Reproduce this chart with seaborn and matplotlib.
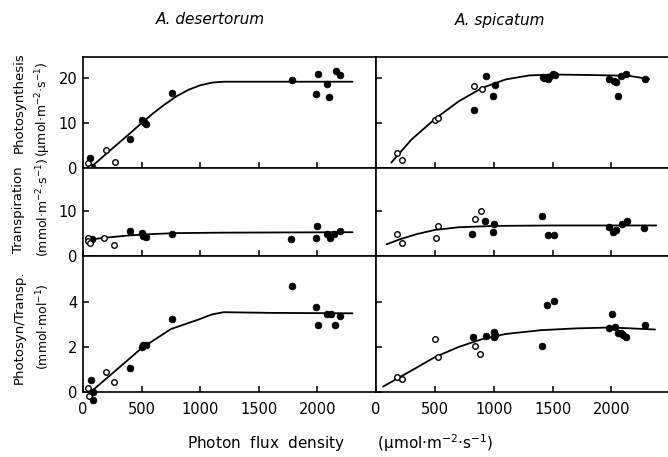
import numpy as np
import pandas as pd
import seaborn as sns
import matplotlib
matplotlib.use('Agg')
import matplotlib.pyplot as plt


# Data
# A. desertorum - photosynthesis
des_ps_open_x = [45, 60, 197, 274]
des_ps_open_y = [1.2, 0.0, 4.1, 1.4]
des_ps_fill_x = [60, 80, 85, 402, 502, 521, 538, 758, 1784, 2006, 1987, 2078, 2100, 2155, 2197]
des_ps_fill_y = [2.2, 0.3, -0.8, 6.4, 10.7, 10.3, 9.8, 16.6, 19.6, 21.0, 16.4, 18.7, 15.9, 21.6, 20.7]
des_ps_fit_x = [60, 200, 400, 500, 600, 700, 800, 900, 1000, 1100, 1200, 1500, 2000, 2300]
des_ps_fit_y = [0.0, 3.2, 7.7, 10.0, 12.2, 14.2, 16.0, 17.4, 18.4, 19.0, 19.2, 19.2, 19.2, 19.2]

# A. spicatum - photosynthesis
spi_ps_open_x = [181, 223, 500, 528, 830, 898]
spi_ps_open_y = [3.4, 1.8, 10.7, 11.2, 18.3, 17.6]
spi_ps_fill_x = [833, 937, 994, 1008, 1417, 1430, 1460, 1470, 1502, 1519,
                 1982, 2024, 2039, 2053, 2081, 2123, 2287]
spi_ps_fill_y = [13.0, 20.4, 16.1, 18.4, 20.3, 20.0, 19.9, 20.3, 21.0, 20.8,
                 19.9, 19.4, 19.2, 16.1, 20.4, 20.9, 19.7]
spi_ps_fit_x = [130, 300, 500, 700, 900, 1100, 1300, 1500, 1800, 2000, 2150, 2320]
spi_ps_fit_y = [1.2, 6.3, 10.9, 14.8, 17.8, 19.7, 20.6, 20.8, 20.7, 20.6, 20.5, 19.8]

# A. desertorum - transpiration
des_tr_open_x = [45, 45, 60, 182, 268]
des_tr_open_y = [3.9, 3.4, 2.8, 4.1, 2.4]
des_tr_fill_x = [74, 402, 502, 510, 536, 758, 1778, 1998, 1984, 2083, 2106, 2140, 2197]
des_tr_fill_y = [3.7, 5.6, 5.2, 4.4, 4.3, 5.0, 3.7, 6.7, 4.1, 5.0, 4.1, 5.0, 5.6]
des_tr_fit_x = [30, 200, 400, 600, 800, 1200, 2300]
des_tr_fit_y = [3.6, 4.1, 4.6, 4.9, 5.1, 5.2, 5.3]

# A. spicatum - transpiration
spi_tr_open_x = [181, 218, 528, 506, 841, 889]
spi_tr_open_y = [4.8, 3.0, 6.7, 4.1, 8.3, 10.1]
spi_tr_fill_x = [819, 929, 1002, 994, 1412, 1460, 1510, 1982, 2010, 2039, 2087, 2129, 2279]
spi_tr_fill_y = [4.8, 7.8, 7.1, 5.3, 9.0, 4.6, 4.6, 6.5, 5.4, 5.8, 7.1, 7.8, 6.2]
spi_tr_fit_x = [90, 200, 350, 500, 700, 1000, 1500, 2000, 2380]
spi_tr_fit_y = [2.6, 3.7, 4.9, 5.8, 6.4, 6.7, 6.8, 6.8, 6.8]

# A. desertorum - photosynthesis / transpiration
des_wue_open_x = [45, 54, 197, 268]
des_wue_open_y = [0.2, -0.2, 0.9, 0.46]
des_wue_fill_x = [68, 83, 88, 402, 502, 516, 536, 758, 1784, 1984, 2004, 2083, 2112, 2150, 2193]
des_wue_fill_y = [0.53, 0.0, -0.36, 1.05, 2.0, 2.1, 2.1, 3.24, 4.73, 3.8, 3.0, 3.47, 3.47, 3.0, 3.4]
des_wue_fit_x = [65, 300, 500, 750, 1000, 1100, 1200, 1600, 2300]
des_wue_fit_y = [0.0, 1.05, 1.95, 2.8, 3.25, 3.45, 3.55, 3.52, 3.5]

# A. spicatum - photosynthesis / transpiration
spi_wue_open_x = [175, 218, 500, 528, 839, 887]
spi_wue_open_y = [0.68, 0.58, 2.36, 1.54, 2.06, 1.69]
spi_wue_fill_x = [824, 932, 999, 999, 1008, 1409, 1455, 1508,
                  2005, 1982, 2033, 2053, 2081, 2101, 2123, 2287]
spi_wue_fill_y = [2.43, 2.49, 2.65, 2.43, 2.55, 2.06, 3.87, 4.06,
                  3.47, 2.83, 2.87, 2.64, 2.61, 2.53, 2.43, 2.98]
spi_wue_fit_x = [60, 300, 500, 700, 900, 1100, 1400, 1700, 2000, 2370]
spi_wue_fit_y = [0.24, 0.95, 1.55, 2.0, 2.35, 2.58, 2.75, 2.83, 2.87, 2.78]

x_ticks = [0, 500, 1000, 1500, 2000]
species = ['A. desertorum', 'A. spicatum']
row_names = ['Photosynthesis', 'Transpiration', 'Photosyn/Transp.']
row_units = ['(µmol·m$^{-2}$·s$^{-1}$)', '(mmol·m$^{-2}$·s$^{-1}$)', '(mmol·mol$^{-1}$)']
row_ticks = [[0, 10, 20], [0, 10], [0, 2, 4]]
row_ylim = [(0, 24.7), (0, 19.6), (0, 6.05)]

panels = [
    [(des_ps_open_x, des_ps_open_y, des_ps_fill_x, des_ps_fill_y, des_ps_fit_x, des_ps_fit_y),
     (spi_ps_open_x, spi_ps_open_y, spi_ps_fill_x, spi_ps_fill_y, spi_ps_fit_x, spi_ps_fit_y)],
    [(des_tr_open_x, des_tr_open_y, des_tr_fill_x, des_tr_fill_y, des_tr_fit_x, des_tr_fit_y),
     (spi_tr_open_x, spi_tr_open_y, spi_tr_fill_x, spi_tr_fill_y, spi_tr_fit_x, spi_tr_fit_y)],
    [(des_wue_open_x, des_wue_open_y, des_wue_fill_x, des_wue_fill_y, des_wue_fit_x, des_wue_fit_y),
     (spi_wue_open_x, spi_wue_open_y, spi_wue_fill_x, spi_wue_fill_y, spi_wue_fit_x, spi_wue_fit_y)],
]

sns.set_style('ticks')
plt.rcParams['font.family'] = ['DejaVu Sans']
plt.rcParams['axes.linewidth'] = 1.2
for key in ['text.color', 'axes.labelcolor', 'xtick.color', 'ytick.color', 'axes.edgecolor']:
    plt.rcParams[key] = 'black'

W, H = 668, 457
fig = plt.figure(figsize=(W / 100, H / 100), dpi=100)

col_px = [(83, 376, 2500), (376, 668, 2480)]
row_px = [(57, 168), (168, 256), (256, 392)]

for r, (top, bot) in enumerate(row_px):
    for c, (x0, x1, xmax) in enumerate(col_px):
        ax = fig.add_axes([x0 / W, 1 - bot / H, (x1 - x0) / W, (bot - top) / H])
        ox, oy, fx, fy, lx, ly = panels[r][c]
        sns.lineplot(x=lx, y=ly, color='black', lw=1.3, sort=False, estimator=None, ax=ax)
        sns.scatterplot(x=fx, y=fy, color='black', s=24, edgecolor='black', linewidth=0.5,
                        clip_on=False, zorder=3, ax=ax)
        sns.scatterplot(x=ox, y=oy, facecolor='white', s=16, edgecolor='black', linewidth=1.0,
                        clip_on=False, zorder=3, ax=ax)
        ax.set_xlim(0, xmax)
        ax.set_ylim(*row_ylim[r])
        ax.set_xticks(x_ticks)
        ax.set_yticks(row_ticks[r])
        ax.tick_params(direction='in', length=4, width=1.1, labelsize=10.5, pad=4)
        ax.tick_params(axis='x', pad=7)
        ax.set_xlabel('')
        ax.set_ylabel('')
        if r < 2:
            ax.tick_params(labelbottom=False)
        if c == 1:
            ax.tick_params(labelleft=False)
            ax.spines['right'].set_visible(False)

name_y = [103, 210, 327]
unit_y = [109, 207, 327]
for r in range(3):
    fig.text(19 / W, 1 - name_y[r] / H, row_names[r], rotation=90, ha='center', va='center', fontsize=9.5)
    fig.text(43 / W, 1 - unit_y[r] / H, row_units[r], rotation=90, ha='center', va='center', fontsize=9)

fig.text(210 / W, 1 - 20 / H, species[0], style='italic', ha='center', va='center', fontsize=11)
fig.text(500 / W, 1 - 20 / H, species[1], style='italic', ha='center', va='center', fontsize=11)

fig.text(187 / W, 1 - 443 / H, 'Photon  flux  density       (µmol·m$^{-2}$·s$^{-1}$)',
         ha='left', va='center', fontsize=11)

fig.savefig('out.png', dpi=100)
